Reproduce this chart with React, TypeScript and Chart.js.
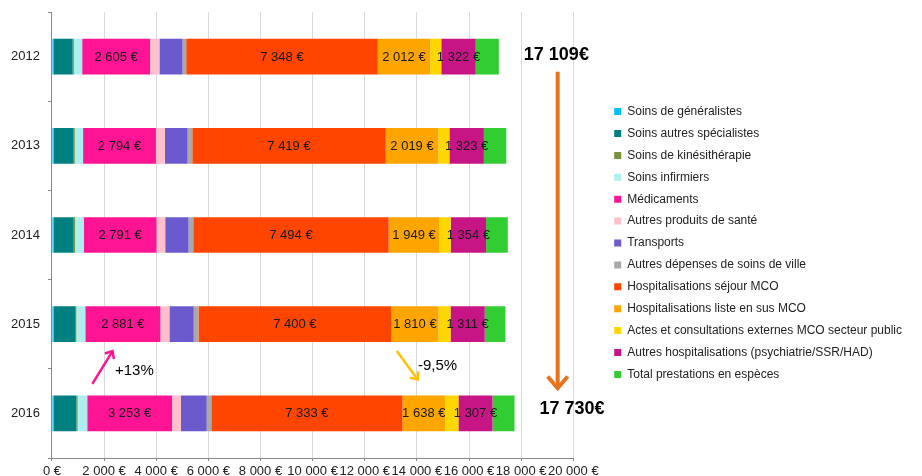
import { useEffect, useRef } from 'react';
import { Chart, registerables } from 'chart.js';

Chart.register(...registerables);

const FONT = "'Liberation Sans', Arial, sans-serif";

const years = ['2012', '2013', '2014', '2015', '2016'];

const seriesNames = [
  'Soins de généralistes',
  'Soins autres spécialistes',
  'Soins de kinésithérapie',
  'Soins infirmiers',
  'Médicaments',
  'Autres produits de santé',
  'Transports',
  'Autres dépenses de soins de ville',
  'Hospitalisations séjour MCO',
  'Hospitalisations liste en sus MCO',
  'Actes et consultations externes MCO secteur public',
  'Autres hospitalisations (psychiatrie/SSR/HAD)',
  'Total prestations en espèces',
];

const seriesColors = [
  '#00BFFF', '#008080', '#76923C', '#AFEEEE', '#FF1493', '#FFC0CB', '#6A5ACD',
  '#A9A9A9', '#FF4500', '#FFA500', '#FFD700', '#C71585', '#32CD32',
];

const generalistes = [75, 65, 65, 65, 60];
const specialistes = [720, 770, 770, 820, 880];
const kinesitherapie = [45, 40, 50, 50, 45];
const infirmiers = [320, 320, 335, 345, 370];
const medicaments = [2605, 2794, 2791, 2881, 3253];
const autresProduits = [360, 345, 335, 345, 340];
const transports = [885, 870, 895, 935, 990];
const autresDepenses = [140, 180, 180, 180, 175];
const sejourMCO = [7348, 7419, 7494, 7400, 7333];
const listeEnSus = [2012, 2019, 1949, 1810, 1638];
const actesExternes = [425, 425, 435, 460, 510];
const autresHosp = [1322, 1323, 1354, 1311, 1307];
const prestationsEspeces = [885, 860, 835, 795, 845];

const seriesValues = [
  generalistes, specialistes, kinesitherapie, infirmiers, medicaments, autresProduits,
  transports, autresDepenses, sejourMCO, listeEnSus, actesExternes, autresHosp, prestationsEspeces,
];

// series whose values are written on the bars
const labeledSeries = [4, 8, 9, 11];

const xMax = 20000;
const xStep = 2000;

// annotations, in data units (euros, category index)
const totalTexts = [
  { text: '17 109€', x: 19350, y: -0.02 },
  { text: '17 730€', x: 19950, y: 3.95 },
];
const totalArrow = { x: 19400, from: 0.17, to: 3.74 };
const changeNotes = [
  { text: '+13%', color: '#FF1493', fromX: 1550, fromY: 3.67, toX: 2350, toY: 3.29, tx: 2420, ty: 3.52 },
  { text: '-9,5%', color: '#FFC000', fromX: 13230, fromY: 3.3, toX: 14060, toY: 3.63, tx: 14040, ty: 3.47 },
];

const fmt = (v: number) => String(Math.round(v)).replace(/\B(?=(\d{3})+(?!\d))/g, ' ');

function drawArrow(ctx: CanvasRenderingContext2D, x1: number, y1: number, x2: number, y2: number,
  color: string, width: number, head: number) {
  const ang = Math.atan2(y2 - y1, x2 - x1);
  ctx.save();
  ctx.strokeStyle = color;
  ctx.lineWidth = width;
  ctx.lineCap = 'butt';
  ctx.lineJoin = 'miter';
  ctx.beginPath();
  ctx.moveTo(x1, y1);
  ctx.lineTo(x2 - Math.cos(ang) * width * 0.6, y2 - Math.sin(ang) * width * 0.6);
  ctx.stroke();
  const a = Math.PI / 5;
  ctx.beginPath();
  ctx.moveTo(x2 - head * Math.cos(ang - a), y2 - head * Math.sin(ang - a));
  ctx.lineTo(x2 - Math.cos(ang) * width * 0.5, y2 - Math.sin(ang) * width * 0.5);
  ctx.lineTo(x2 - head * Math.cos(ang + a), y2 - head * Math.sin(ang + a));
  ctx.stroke();
  ctx.restore();
}

const valueLabelPlugin = {
  id: 'valueLabels',
  afterDatasetsDraw(chart: any) {
    const ctx = chart.ctx as CanvasRenderingContext2D;
    ctx.save();
    ctx.font = `13px ${FONT}`;
    ctx.fillStyle = '#1a1a1a';
    ctx.textAlign = 'center';
    ctx.textBaseline = 'middle';
    labeledSeries.forEach((di) => {
      const meta = chart.getDatasetMeta(di);
      meta.data.forEach((el: any, i: number) => {
        const { x, y, base } = el.getProps(['x', 'y', 'base'], true);
        ctx.fillText(fmt(seriesValues[di][i]) + ' €', (x + base) / 2, y + 0.5);
      });
    });
    ctx.restore();
  },
};

const annotationPlugin = {
  id: 'annotations',
  afterDraw(chart: any) {
    const ctx = chart.ctx as CanvasRenderingContext2D;
    const xs = chart.scales.x;
    const ys = chart.scales.y;
    ctx.save();
    ctx.textBaseline = 'middle';
    ctx.fillStyle = '#000';
    ctx.font = `bold 18px ${FONT}`;
    ctx.textAlign = 'center';
    totalTexts.forEach((t) => {
      ctx.fillText(t.text, xs.getPixelForValue(t.x), ys.getPixelForValue(t.y));
    });
    const ax = xs.getPixelForValue(totalArrow.x);
    drawArrow(ctx, ax, ys.getPixelForValue(totalArrow.from), ax, ys.getPixelForValue(totalArrow.to),
      '#E8731C', 4, 17);
    ctx.font = `15px ${FONT}`;
    ctx.textAlign = 'left';
    changeNotes.forEach((n) => {
      drawArrow(ctx, xs.getPixelForValue(n.fromX), ys.getPixelForValue(n.fromY),
        xs.getPixelForValue(n.toX), ys.getPixelForValue(n.toY), n.color, 2.5, 9);
      ctx.fillStyle = '#000';
      ctx.fillText(n.text, xs.getPixelForValue(n.tx), ys.getPixelForValue(n.ty));
    });
    ctx.restore();
  },
};

export default function App() {
  const ref = useRef<HTMLCanvasElement>(null);

  useEffect(() => {
    document.body.style.margin = '0';
    if (!ref.current) return;
    const chart = new Chart(ref.current, {
      type: 'bar',
      data: {
        labels: years,
        datasets: seriesNames.map((name, i) => ({
          label: name,
          data: seriesValues[i],
          backgroundColor: seriesColors[i],
          borderWidth: 0,
          barPercentage: 0.5,
          categoryPercentage: 0.8,
          xAxisID: 'x',
          yAxisID: 'y',
        })),
      },
      options: {
        indexAxis: 'y',
        animation: false,
        responsive: false,
        layout: { padding: { left: 3, right: 10, top: 4, bottom: -6 } },
        scales: {
          x: {
            stacked: true,
            min: 0,
            max: xMax,
            ticks: {
              stepSize: xStep,
              autoSkip: false,
              maxRotation: 0,
              minRotation: 0,
              padding: 4,
              color: '#222',
              font: { size: 13, family: FONT, lineHeight: 1 },
              callback: (v: any) => fmt(Number(v)) + ' €',
            },
            grid: { color: '#d9d9d9', tickColor: '#888', tickLength: 3 },
            border: { color: '#888' },
          },
          x2: {
            type: 'linear',
            position: 'top',
            grid: { display: false },
            ticks: { display: false },
            border: { display: false },
            afterFit: (s: any) => { s.height = 8; },
          },
          y: {
            stacked: true,
            ticks: { padding: 8, color: '#222', font: { size: 13, family: FONT, lineHeight: 0.6 } },
            grid: { drawOnChartArea: false, tickLength: 4, tickColor: '#888' },
            border: { color: '#888' },
          },
          y2: {
            type: 'category',
            position: 'right',
            grid: { display: false },
            ticks: { display: false },
            border: { display: false },
            afterFit: (s: any) => { s.width = 31; },
          },
        },
        plugins: {
          legend: {
            position: 'right',
            maxWidth: 400,
            labels: {
              boxWidth: 7,
              boxHeight: 7,
              padding: 9.9,
              color: '#222',
              font: { size: 12, family: FONT },
            },
          },
          tooltip: { enabled: false },
        },
      } as any,
      plugins: [valueLabelPlugin, annotationPlugin],
    });
    return () => chart.destroy();
  }, []);

  return (
    <div style={{ width: 922, height: 476 }}>
      <canvas ref={ref} width={922} height={476} />
    </div>
  );
}
